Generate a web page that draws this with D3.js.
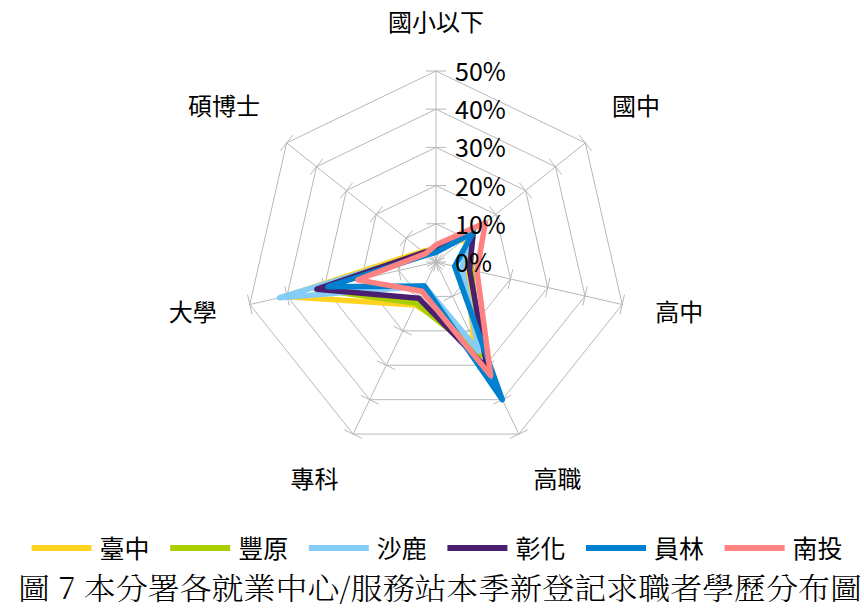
<!DOCTYPE html>
<html>
<head>
<meta charset="utf-8">
<script src="https://cdn.jsdelivr.net/npm/d3@7/dist/d3.min.js"></script>
<style>
  html, body { margin: 0; padding: 0; background: #ffffff; }
  svg { display: block; }
  text { font-family: "Noto Sans CJK TC", "Noto Sans", sans-serif; fill: #000; }
</style>
</head>
<body>
<svg id="chart" width="864" height="610"></svg>
<script>
// ---- data ----
const categories = ['國小以下', '國中', '高中', '高職', '專科', '大學', '碩博士'];
const seriesNames = ['臺中', '豐原', '沙鹿', '彰化', '員林', '南投'];
const seriesColors = ['#FFD320', '#A9CF00', '#85CCF8', '#4B1F70', '#0081CF', '#FF8282'];
const taichung  = [3.5, 10.0,  8.0, 23.0, 12.5, 40.5, 4.5];
const fengyuan  = [3.0, 11.5,  9.5, 27.0, 12.0, 32.0, 4.0];
const shalu     = [3.0, 11.0,  7.0, 26.0,  7.0, 42.0, 3.5];
const changhua  = [3.5, 12.5,  9.0, 31.0, 10.5, 32.0, 4.0];
const yuanlin   = [2.5, 12.5,  5.0, 40.0,  7.0, 29.0, 3.0];
const nantou    = [4.5, 16.5, 11.0, 33.0,  8.5, 21.0, 3.5];
const seriesValues = [taichung, fengyuan, shalu, changhua, yuanlin, nantou];
const tickValues = [0, 10, 20, 30, 40, 50];
const tickLabels = ['0%', '10%', '20%', '30%', '40%', '50%'];
const captionText = '圖 7 本分署各就業中心/服務站本季新登記求職者學歷分布圖';

// ---- layout ----
const W = 864, H = 610;
const cx = 436, cy = 262, R = 191;
const svg = d3.select('#chart');
const g = svg.append('g').attr('transform', `translate(${cx},${cy})`);

const r = d3.scaleLinear().domain([0, 50]).range([0, R]);
const angle = d3.scaleLinear().domain([0, categories.length]).range([0, 2 * Math.PI]);
const dirX = i => Math.sin(angle(i));
const dirY = i => -Math.cos(angle(i));

const gridColor = '#B8B8B8';

// rings
const ringLine = d3.lineRadial()
  .angle((d, i) => angle(i))
  .radius(d => r(d))
  .curve(d3.curveLinearClosed);

tickValues.filter(t => t > 0).forEach(t => {
  g.append('path')
    .attr('d', ringLine(categories.map(() => t)))
    .attr('fill', 'none')
    .attr('stroke', gridColor)
    .attr('stroke-width', 1);
});

// axes + tick marks
categories.forEach((c, i) => {
  g.append('line')
    .attr('x1', 0).attr('y1', 0)
    .attr('x2', dirX(i) * r(50)).attr('y2', dirY(i) * r(50))
    .attr('stroke', gridColor).attr('stroke-width', 1);
  const px = -dirY(i), py = dirX(i);
  const tl = 10;
  tickValues.forEach(t => {
    const x = dirX(i) * r(t), y = dirY(i) * r(t);
    g.append('line')
      .attr('x1', x - px * tl).attr('y1', y - py * tl)
      .attr('x2', x + px * tl).attr('y2', y + py * tl)
      .attr('stroke', gridColor).attr('stroke-width', 1);
  });
});

// series
const seriesLine = d3.lineRadial()
  .angle((d, i) => angle(i))
  .radius(d => r(d))
  .curve(d3.curveLinearClosed);

seriesValues.forEach((vals, s) => {
  g.append('path')
    .attr('d', seriesLine(vals))
    .attr('fill', 'none')
    .attr('stroke', seriesColors[s])
    .attr('stroke-width', 5.5)
    .attr('stroke-linejoin', 'round');
});

// value tick labels
tickValues.forEach((t, k) => {
  g.append('text')
    .attr('x', 19)
    .attr('y', -r(t) - 1)
    .attr('dominant-baseline', 'central')
    .attr('font-size', 25)
    .text(tickLabels[k]);
});

// category labels
const labFs = 24;
categories.forEach((c, i) => {
  const dx = dirX(i), dy = dirY(i);
  const hw = c.length * labFs / 2, hh = labFs / 2;
  const x = dx * 225 + (Math.abs(dx) > 0.1 ? Math.sign(dx) * hw : 0);
  const y = dy * 225 + (Math.abs(dy) > 0.5 ? Math.sign(dy) * hh * 1.25 : 0) - 2;
  g.append('text')
    .attr('x', x).attr('y', y)
    .attr('text-anchor', 'middle')
    .attr('dominant-baseline', 'central')
    .attr('font-size', labFs)
    .text(c);
});

// legend
const legendY = 548;
const legendX0 = 31.6, legendStep = 138.6, legendLen = 60;
const lg = svg.append('g');
seriesNames.forEach((n, s) => {
  const x = legendX0 + s * legendStep;
  lg.append('line')
    .attr('x1', x).attr('x2', x + legendLen)
    .attr('y1', legendY).attr('y2', legendY)
    .attr('stroke', seriesColors[s]).attr('stroke-width', 6);
  lg.append('text')
    .attr('x', x + legendLen + 8)
    .attr('y', legendY - 1)
    .attr('dominant-baseline', 'central')
    .attr('font-size', 25)
    .text(n);
});

// caption
svg.append('text')
  .attr('x', 18)
  .attr('y', 586)
  .attr('dominant-baseline', 'central')
  .attr('font-size', 30)
  .attr('textLength', 844)
  .attr('lengthAdjust', 'spacingAndGlyphs')
  .style('font-family', '"Noto Serif CJK TC", "Noto Sans CJK TC", serif')
  .style('font-weight', 300)
  .text(captionText);
</script>
</body>
</html>
